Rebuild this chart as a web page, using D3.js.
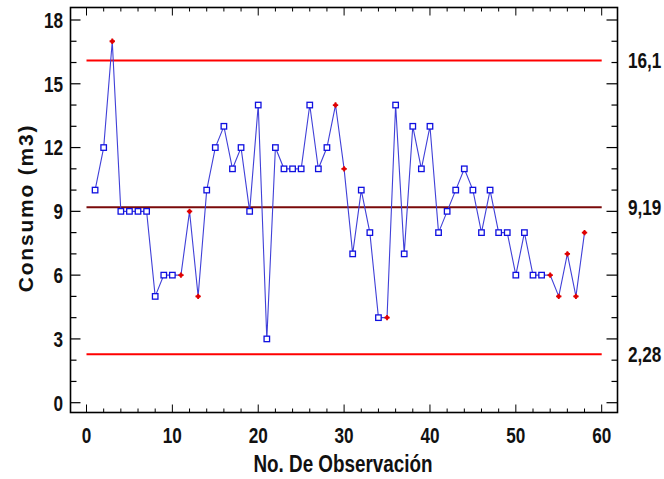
<!DOCTYPE html>
<html>
<head>
<meta charset="utf-8">
<script src="https://cdn.jsdelivr.net/npm/d3@7/dist/d3.min.js"></script>
<style>
html,body{margin:0;padding:0;background:#fff;}
svg{display:block;}
text{font-family:"Liberation Sans",Arial,sans-serif;font-weight:bold;fill:#111;}
</style>
</head>
<body>
<svg id="chart" width="664" height="479"></svg>
<script>
// ---- data ----
const observations = [1,2,3,4,5,6,7,8,9,10,11,12,13,14,15,16,17,18,19,20,21,22,23,24,25,26,27,28,29,30,31,32,33,34,35,36,37,38,39,40,41,42,43,44,45,46,47,48,49,50,51,52,53,54,55,56,57,58];
const consumo = [10,12,17,9,9,9,9,5,6,6,6,9,5,10,12,13,11,12,9,14,3,12,11,11,11,14,11,12,14,11,7,10,8,4,4,14,7,13,11,13,8,9,10,11,10,8,10,8,8,6,8,6,6,6,5,7,5,8];
const flagged = [3,11,12,13,29,30,35,54,55,56,57,58];
const UCL = 16.1, CL = 9.19, LCL = 2.28;
const limitLabels = ["16,1","9,19","2,28"];
const yTicks = [0,3,6,9,12,15,18];
const xTicks = [0,10,20,30,40,50,60];
const xLabel = "No. De Observación";
const yLabel = "Consumo (m3)";

// ---- layout ----
const svg = d3.select("#chart");
const frame = {left:70.5, right:617.5, top:7.5, bottom:412.5};
const x = d3.scaleLinear().domain([0,60]).range([86.5,601.7]);
const y = d3.scaleLinear().domain([0,18]).range([402.7,20]);

// narrow bold text helper (condensed look)
function narrowText(px, py, str, anchor, size, sx, dy){
  const g = svg.append("g").attr("transform",`translate(${px},${py}) scale(${sx},1)`);
  g.append("text").attr("text-anchor",anchor).attr("font-size",size)
    .attr("dy",dy||0).text(str);
  return g;
}

// control lines
const limits = [
  {v:UCL, color:"#ff0000", w:2, label:limitLabels[0]},
  {v:CL, color:"#7a0a0a", w:2, label:limitLabels[1]},
  {v:LCL, color:"#ff0000", w:2, label:limitLabels[2]}
];
svg.selectAll("line.limit").data(limits).enter().append("line")
  .attr("class","limit")
  .attr("x1",x(0)).attr("x2",x(60))
  .attr("y1",d=>y(d.v)).attr("y2",d=>y(d.v))
  .attr("stroke",d=>d.color).attr("stroke-width",d=>d.w);

// data line
const pts = observations.map((o,i)=>({o, v:consumo[i], flag: flagged.includes(o)}));
svg.append("path").datum(pts)
  .attr("fill","none").attr("stroke","#4040d8").attr("stroke-width",1.1)
  .attr("d", d3.line().x(d=>x(d.o)).y(d=>y(d.v)));

// squares
const s = 5.5;
svg.selectAll("rect.pt").data(pts.filter(d=>!d.flag)).enter().append("rect")
  .attr("class","pt")
  .attr("x",d=>x(d.o)-s/2).attr("y",d=>y(d.v)-s/2)
  .attr("width",s).attr("height",s)
  .attr("fill","#fff").attr("stroke","#1010e0").attr("stroke-width",1.3);

// red stars
const star = svg.selectAll("g.star").data(pts.filter(d=>d.flag)).enter().append("g")
  .attr("class","star").attr("transform",d=>`translate(${x(d.o)},${y(d.v)})`);
star.append("path").attr("d",d3.symbol().type(d3.symbolCross).size(16))
  .attr("fill","#e00000");
star.append("path").attr("d",d3.symbol().type(d3.symbolCross).size(9))
  .attr("transform","rotate(45)").attr("fill","#e00000");

// frame
svg.append("rect").attr("x",frame.left).attr("y",frame.top)
  .attr("width",frame.right-frame.left).attr("height",frame.bottom-frame.top)
  .attr("fill","none").attr("stroke","#000").attr("stroke-width",1.6);

// y ticks (left & right, inward)
const yAll = d3.range(0,19,1).map(v=>({v, major: yTicks.includes(v)}));
svg.selectAll("line.yl").data(yAll).enter().append("line")
  .attr("x1",frame.left).attr("x2",d=>frame.left+(d.major?10:6))
  .attr("y1",d=>y(d.v)).attr("y2",d=>y(d.v)).attr("stroke","#000").attr("stroke-width",1.2);
svg.selectAll("line.yr").data(yAll).enter().append("line")
  .attr("x1",frame.right).attr("x2",d=>frame.right-(d.major?11:6))
  .attr("y1",d=>y(d.v)).attr("y2",d=>y(d.v)).attr("stroke","#000").attr("stroke-width",1.2);

// x ticks (bottom & top, inward)
const xAll = d3.range(0,61,2).map(v=>({v, major: xTicks.includes(v)}));
svg.selectAll("line.xb").data(xAll).enter().append("line")
  .attr("y1",frame.bottom).attr("y2",d=>frame.bottom-(d.major?8:4))
  .attr("x1",d=>x(d.v)).attr("x2",d=>x(d.v)).attr("stroke","#000").attr("stroke-width",1);
svg.selectAll("line.xt").data(xAll).enter().append("line")
  .attr("y1",frame.top).attr("y2",d=>frame.top+(d.major?8:4))
  .attr("x1",d=>x(d.v)).attr("x2",d=>x(d.v)).attr("stroke","#000").attr("stroke-width",1);

// tick labels
yTicks.forEach(v=>narrowText(63, y(v), String(v), "end", 22, 0.78, "0.36em"));
xTicks.forEach(v=>narrowText(x(v), 443, String(v), "middle", 22, 0.78, 0));
limits.forEach(d=>narrowText(628, y(d.v), d.label, "start", 22, 0.78, "0.36em"));

// axis titles
narrowText(343, 472, xLabel, "middle", 23, 0.82, 0);
svg.append("text").attr("transform","translate(33,208) rotate(-90)")
  .attr("text-anchor","middle").attr("font-size",21)
  .attr("letter-spacing","1.8px").text(yLabel);
</script>
</body>
</html>
